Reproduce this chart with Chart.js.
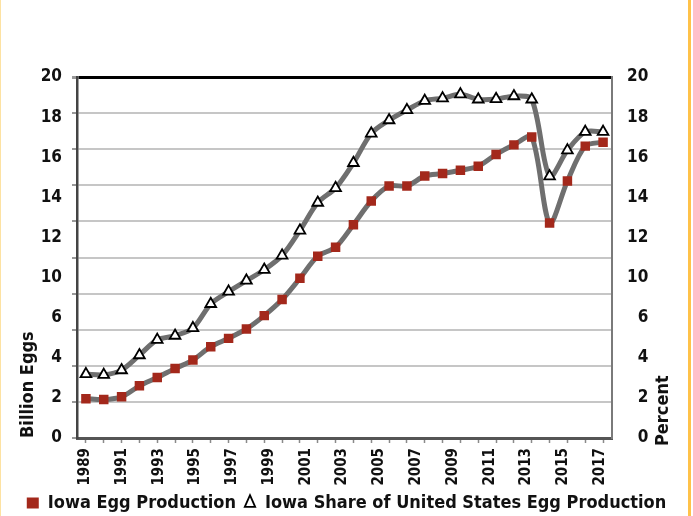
<!DOCTYPE html>
<html>
<head>
<meta charset="utf-8">
<script src="https://cdn.jsdelivr.net/npm/chart.js@4.4.0/dist/chart.umd.min.js"></script>
<style>
  html, body { margin: 0; padding: 0; background: #fff; }
  #wrap { position: relative; width: 693px; height: 516px; overflow: hidden; }
  #edgeL { position: absolute; left: 0; top: 0; width: 1px; height: 516px; background: #fde2a2; }
  #edgeR { position: absolute; left: 688px; top: 0; width: 3px; height: 516px; background: #ffc24a; }
</style>
</head>
<body>
<div id="wrap">
  <canvas id="eggs" width="693" height="516"></canvas>
  <div id="edgeL"></div>
  <div id="edgeR"></div>
</div>
<script>
// one point per year as drawn (30 points between the 1989 and 2017 labels)
const pointYears = ['1988', '1989', '1990', '1991', '1992', '1993', '1994', '1995', '1996', '1997',
  '1998', '1999', '2000', '2001', '2002', '2003', '2004', '2005', '2006', '2007',
  '2008', '2009', '2010', '2011', '2012', '2013', '2014', '2015', '2016', '2017'];

// Iowa egg production (billion eggs), read on the gridline scale
const eggProduction = [2.18, 2.13, 2.28, 2.89, 3.35, 3.85, 4.32, 5.06, 5.52, 6.04,
  6.78, 7.67, 8.85, 10.07, 10.57, 11.82, 13.13, 13.96, 13.96, 14.52,
  14.65, 14.83, 15.06, 15.71, 16.24, 16.68, 11.91, 14.24, 16.17, 16.39];

// Iowa share of US egg production (percent)
const usShare = [3.54, 3.50, 3.76, 4.59, 5.44, 5.67, 6.09, 7.43, 8.11, 8.72,
  9.32, 10.11, 11.5, 13.04, 13.85, 15.24, 16.87, 17.61, 18.17, 18.68,
  18.82, 19.04, 18.76, 18.78, 18.94, 18.76, 14.5, 15.94, 16.96, 16.96];

// tick labels as printed on the original (no "8")
const yTickLabels = ['0', '2', '4', '6', '10', '12', '14', '16', '18', '20'];
const xTickYears = [1989, 1991, 1993, 1995, 1997, 1999, 2001, 2003, 2005, 2007, 2009, 2011, 2013, 2015, 2017];

const FONT = "'DejaVu Sans Condensed', 'Liberation Sans Narrow', 'Liberation Sans', sans-serif";
Chart.defaults.font.family = FONT;
Chart.defaults.font.weight = 'bold';
Chart.defaults.color = '#111';

const sideTitle = {
  id: 'sideTitle',
  afterDraw(chart) {
    const ctx = chart.ctx;
    ctx.save();
    ctx.translate(chart.scales.yr.left + 51, chart.chartArea.bottom + 8);
    ctx.rotate(-Math.PI / 2);
    ctx.font = 'bold 18px ' + FONT;
    ctx.fillStyle = '#111';
    ctx.textAlign = 'left';
    ctx.textBaseline = 'middle';
    ctx.fillText('Percent', 0, 0);
    ctx.restore();
  }
};

const lineGray = '#6f6f6f';

new Chart(document.getElementById('eggs'), {
  type: 'line',
  data: {
    labels: pointYears,
    datasets: [{
      label: 'Iowa Egg Production',
      data: eggProduction,
      xAxisID: 'x',
      yAxisID: 'y',
      borderColor: lineGray,
      borderWidth: 5,
      tension: 0.3,
      pointStyle: 'rect',
      pointRadius: 6.7,
      pointBackgroundColor: '#a3281b',
      pointBorderColor: '#a3281b',
      pointBorderWidth: 0
    }, {
      label: 'Iowa Share of United States Egg Production',
      data: usShare,
      xAxisID: 'x',
      yAxisID: 'y',
      borderColor: lineGray,
      borderWidth: 5,
      tension: 0.3,
      pointStyle: 'triangle',
      pointRadius: 6.2,
      pointBackgroundColor: '#ffffff',
      pointBorderColor: '#000000',
      pointBorderWidth: 1.8
    }]
  },
  options: {
    responsive: false,
    animation: false,
    layout: { padding: { left: 0, right: 0, top: 77, bottom: -6 } },
    plugins: {
      tooltip: { enabled: false },
      legend: {
        position: 'bottom',
        labels: {
          usePointStyle: true,
          boxHeight: 11,
          pointStyleWidth: 12,
          padding: 8,
          color: '#111',
          font: { size: 18, weight: 'bold' }
        }
      }
    },
    scales: {
      x: {
        type: 'category',
        offset: true,
        weight: 0,
        ticks: { display: false },
        grid: { drawOnChartArea: false, tickLength: 5, tickColor: '#8a8a8a', tickWidth: 1.5 },
        border: { color: '#555', width: 3 }
      },
      xl: {
        type: 'linear',
        position: 'bottom',
        weight: 1,
        min: 1988.56,
        max: 2017.65,
        afterBuildTicks: s => { s.ticks = xTickYears.map(v => ({ value: v })); },
        ticks: { autoSkip: false, minRotation: 90, maxRotation: 90, padding: 5, font: { size: 15 }, callback: v => String(v) },
        grid: { display: false, drawTicks: false },
        border: { display: false },
        afterFit: s => { s.height = 43; }
      },
      y: {
        position: 'left',
        weight: 0,
        min: 0,
        max: 20,
        ticks: { display: false, stepSize: 2 },
        grid: {
          color: c => (c.tick && c.tick.value === 20 ? '#000' : '#c6c6c6'),
          lineWidth: c => (c.tick && c.tick.value === 20 ? 3 : 2),
          tickLength: 5,
          tickColor: '#999'
        },
        border: { color: '#444', width: 2.5 },
        afterFit: s => { s.width = 5; }
      },
      yl: {
        position: 'left',
        weight: 1,
        min: 0,
        max: 18,
        ticks: { stepSize: 2, padding: 10, font: { size: 17 }, callback: v => yTickLabels[v / 2] },
        grid: { display: false, drawTicks: false },
        border: { display: false },
        title: { display: true, text: 'Billion Eggs', align: 'start', font: { size: 18 }, padding: { top: 18 } },
        afterFit: s => { s.width = 72; }
      },
      yr: {
        position: 'right',
        min: 0,
        max: 18,
        // figure spaces keep the single digits flush right like the original
        ticks: { stepSize: 2, padding: 15, font: { size: 17 }, callback: v => yTickLabels[v / 2].padStart(2, '\u2007') },
        grid: { display: false, drawTicks: false },
        border: { display: true, color: '#7a7a7a', width: 2 },
        afterFit: s => { s.width = 81; }
      }
    }
  },
  plugins: [sideTitle]
});
</script>
</body>
</html>
